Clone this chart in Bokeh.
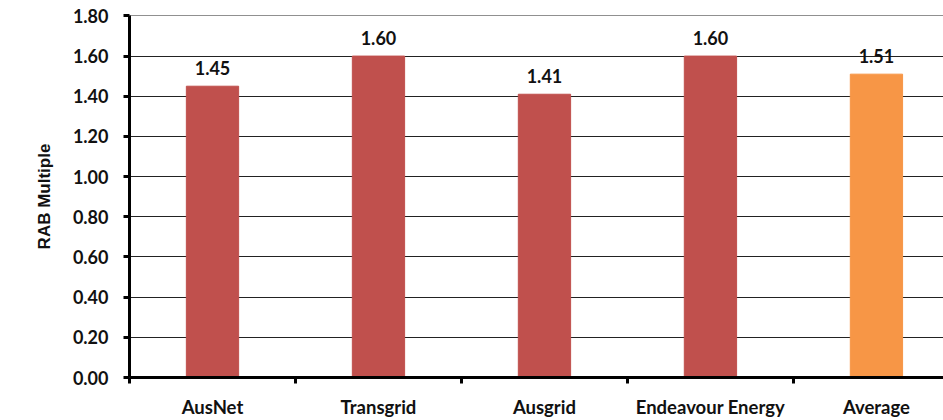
from bokeh.plotting import figure
from bokeh.models import ColumnDataSource, FixedTicker, Range1d, CustomJSTickFormatter
from bokeh.core.properties import value
from bokeh.embed import file_html
from bokeh.resources import INLINE

# Regulated asset base multiples by business
companies = ["AusNet", "Transgrid", "Ausgrid", "Endeavour Energy", "Average"]
rab_multiple = [1.45, 1.60, 1.41, 1.60, 1.51]
bar_colors = ["#C0504D", "#C0504D", "#C0504D", "#C0504D", "#F79646"]
y_ticks = [0.0, 0.2, 0.4, 0.6, 0.8, 1.0, 1.2, 1.4, 1.6, 1.8]
y_title = "RAB Multiple"

FONT = "Lato"
TITLE_FONT = "Liberation Sans"

centers = [i + 0.5 for i in range(len(companies))]
boundaries = list(range(len(companies) + 1))

src = ColumnDataSource(dict(
    x=centers,
    top=rab_multiple,
    color=bar_colors,
    label=[f"{v:.2f}" for v in rab_multiple],
))

p = figure(width=943, height=420, output_backend="svg", toolbar_location=None,
           x_range=Range1d(0, 4.904), y_range=Range1d(0, 1.802),
           min_border_left=129, min_border_right=0, min_border_top=15,
           min_border_bottom=39)
p.outline_line_color = None
p.background_fill_color = "white"
p.border_fill_color = "white"

p.vbar(x="x", top="top", width=0.315, color="color", source=src)
p.text(x="x", y="top", text="label", source=src, text_align="center",
       text_baseline="bottom", y_offset=-11, text_font=value(FONT),
       text_font_style="bold", text_font_size="18px", text_color="#111111")

# y axis and gridlines
p.yaxis.ticker = FixedTicker(ticks=y_ticks)
p.yaxis.formatter = CustomJSTickFormatter(code="return tick.toFixed(2);")
p.yaxis.axis_line_width = 3
p.yaxis.axis_line_color = "black"
p.yaxis.major_tick_line_width = 3
p.yaxis.major_tick_line_color = "black"
p.yaxis.major_tick_out = 6
p.yaxis.major_tick_in = 0
p.yaxis.minor_tick_line_color = None
p.yaxis.major_label_text_font = FONT
p.yaxis.major_label_text_font_style = "bold"
p.yaxis.major_label_text_font_size = "18px"
p.yaxis.major_label_text_color = "#111111"
p.yaxis.major_label_standoff = 15
p.yaxis.axis_label = y_title
p.yaxis.axis_label_text_font = TITLE_FONT
p.yaxis.axis_label_text_font_style = "bold"
p.yaxis.axis_label_text_font_size = "17px"
p.yaxis.axis_label_text_color = "#111111"
p.yaxis.axis_label_standoff = 16

p.ygrid.ticker = FixedTicker(ticks=y_ticks)
p.ygrid.grid_line_color = "#222222"
p.ygrid.grid_line_width = 1.2
p.xgrid.grid_line_color = None

# x axis: names at category centres, tick marks at category boundaries
p.xaxis.ticker = FixedTicker(ticks=centers, minor_ticks=boundaries)
p.xaxis.major_label_overrides = {c: n for c, n in zip(centers, companies)}
p.xaxis.axis_line_width = 3
p.xaxis.axis_line_color = "black"
p.xaxis.major_tick_line_color = None
p.xaxis.minor_tick_line_width = 3
p.xaxis.minor_tick_line_color = "black"
p.xaxis.minor_tick_out = 6
p.xaxis.minor_tick_in = 0
p.xaxis.major_label_text_font = FONT
p.xaxis.major_label_text_font_style = "bold"
p.xaxis.major_label_text_font_size = "18.5px"
p.xaxis.major_label_text_color = "#111111"
p.xaxis.major_label_standoff = 12

open("out.html", "w").write(file_html(p, INLINE))
